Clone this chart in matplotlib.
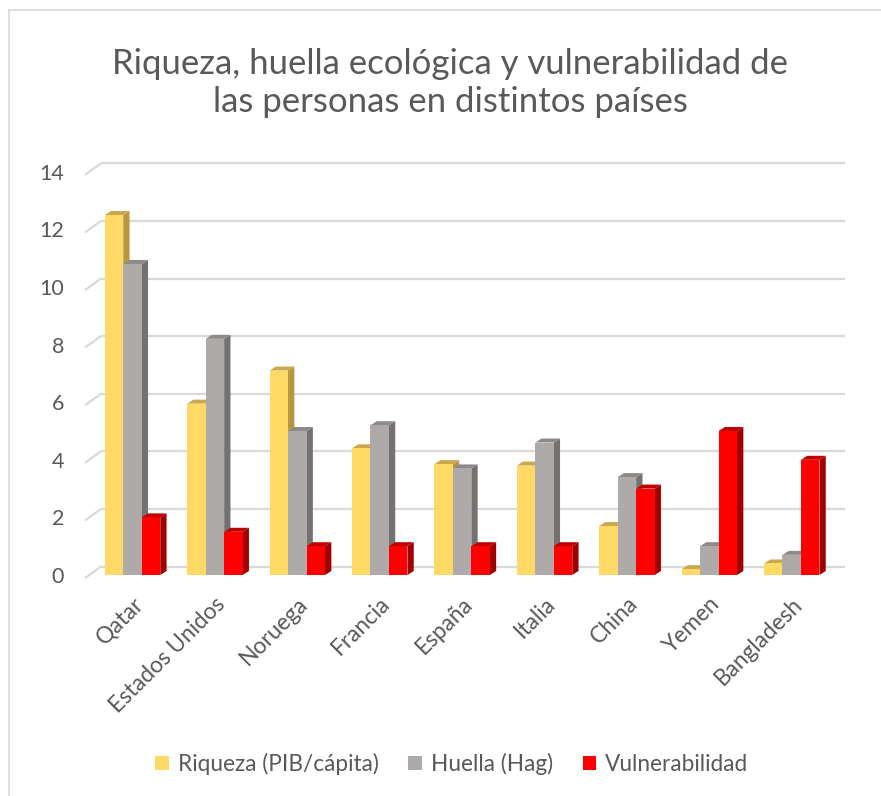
import matplotlib
matplotlib.use("Agg")
import matplotlib.pyplot as plt
from matplotlib.patches import Polygon, Patch, Rectangle
import numpy as np

categorias = ['Qatar', 'Estados Unidos', 'Noruega', 'Francia', 'España',
              'Italia', 'China', 'Yemen', 'Bangladesh']
riqueza = [12.5, 5.95, 7.1, 4.4, 3.85, 3.8, 1.7, 0.2, 0.4]
huella = [10.8, 8.2, 5.0, 5.2, 3.7, 4.6, 3.4, 1.0, 0.7]
vulnerabilidad = [2.0, 1.5, 1.0, 1.0, 1.0, 1.0, 3.0, 5.0, 4.0]
series_nombres = ['Riqueza (PIB/cápita)', 'Huella (Hag)', 'Vulnerabilidad']
yticks = [0, 2, 4, 6, 8, 10, 12, 14]
titulo = 'Riqueza, huella ecológica y vulnerabilidad de\nlas personas en distintos países'

FONT = ['Lato', 'DejaVu Sans']
plt.rcParams['font.family'] = FONT
TXT = '#595959'

W, H = 881, 796
fig = plt.figure(figsize=(W / 100, H / 100), dpi=100)

# axes in pixel layout
L, R = 85, 845
B, T = 575, 171.8
ax = fig.add_axes([L / W, 1 - B / H, (R - L) / W, (B - T) / H])
px_per_cat = 82.4
xmin = -(132.5 - L) / px_per_cat
xmax = xmin + (R - L) / px_per_cat
ax.set_xlim(xmin, xmax)
ax.set_ylim(0, 14)
px_per_unit = (B - T) / 14.0

for s in ax.spines.values():
    s.set_visible(False)

# back-wall gridlines and floor diagonals
gdx = 16 / px_per_cat
front_off = 3 / px_per_unit
gdy = 8.5 / px_per_unit
for y in yticks:
    ax.plot([xmin + gdx, xmax], [y + gdy, y + gdy], color='#d9d9d9', lw=1.6,
            clip_on=False, zorder=1, solid_capstyle='butt')
    ax.plot([xmin, xmin + gdx], [y - front_off, y + gdy], color='#d9d9d9', lw=1.6,
            clip_on=False, zorder=1, solid_capstyle='butt')

x = np.arange(len(categorias))
bw = 18.5 / px_per_cat
ddx = 6.3 / px_per_cat
ddy = 4.0 / px_per_unit
colores = [('#FFD966', '#B8963F', '#C9A84E'),
           ('#AEAAAA', '#757171', '#8E8A8A'),
           ('#FF0000', '#A00000', '#C00000')]
datos = [riqueza, huella, vulnerabilidad]

z = 2
for i in range(len(categorias)):
    for k, (vals, (cf, cs, ct)) in enumerate(zip(datos, colores)):
        xc = x[i] + (k - 1) * bw
        bars = ax.bar([xc], [vals[i]], width=bw, color=cf, zorder=z + 2,
                      clip_on=False, linewidth=0)
        r = bars[0]
        x0, x1, h = r.get_x(), r.get_x() + r.get_width(), r.get_height()
        side = Polygon([[x1, 0], [x1 + ddx, ddy], [x1 + ddx, h + ddy], [x1, h]],
                       closed=True, facecolor=cs, edgecolor='none', zorder=z + 1,
                       clip_on=False)
        top = Polygon([[x0, h], [x1, h], [x1 + ddx, h + ddy], [x0 + ddx, h + ddy]],
                      closed=True, facecolor=ct, edgecolor='none', zorder=z + 1,
                      clip_on=False)
        ax.add_patch(side)
        ax.add_patch(top)
        z += 3

ax.set_yticks(yticks)
ax.set_yticklabels([str(v) for v in yticks], fontsize=15.5, color=TXT)
ax.tick_params(axis='y', length=0, pad=15)
ax.set_xticks(x)
ax.set_xticklabels(categorias, fontsize=16.3, color=TXT, rotation=45,
                   ha='right', va='top', rotation_mode='anchor')
ax.tick_params(axis='x', length=0, pad=13)

fig.text(450 / W, 1 - 83 / H, titulo, ha='center', va='center',
         fontsize=25, color=TXT, linespacing=1.2)

handles = [Patch(facecolor=c[0], edgecolor='none') for c in colores]
fig.legend(handles, series_nombres, loc='center', bbox_to_anchor=(452 / W, 1 - 764 / H),
           ncol=3, frameon=False, fontsize=16.3, labelcolor=TXT,
           handlelength=0.6, handleheight=0.6, handletextpad=0.4,
           columnspacing=1.3)

# chart border
fig.add_artist(Rectangle((9 / W, -0.01), 1.0, 1 - 10 / H + 0.01, transform=fig.transFigure,
                         facecolor='none', edgecolor='#d9d9d9', lw=1.2))

fig.savefig('out.png', dpi=100)
